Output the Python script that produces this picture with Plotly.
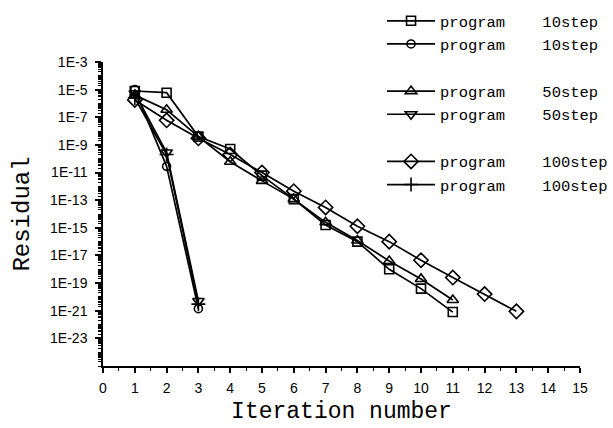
import plotly.graph_objects as go

# Residual history per iteration for each program / step setting
iters_sq = [1, 2, 3, 4, 5, 6, 7, 8, 9, 10, 11]
res_sq = [8e-6, 6e-6, 4e-9, 5e-10, 6e-12, 1.2e-13, 1.6e-15, 1e-16, 1e-18, 4e-20, 8e-22]

iters_circ = [1, 2, 3]
res_circ = [1e-5, 2.8e-11, 1.4e-21]

iters_tup = [1, 2, 3, 4, 5, 6, 7, 8, 9, 10, 11]
res_tup = [4e-6, 3.5e-7, 4e-9, 6e-11, 2.5e-12, 1.2e-13, 2.5e-15, 1.2e-16, 4e-18, 2e-19, 6e-21]

iters_tdn = [1, 2, 3]
res_tdn = [5.5e-6, 2.8e-10, 5e-21]

iters_dia = [1, 2, 3, 4, 5, 6, 7, 8, 9, 10, 11, 12, 13]
res_dia = [1.8e-6, 6e-8, 3e-9, 2e-10, 1e-11, 4.5e-13, 3e-14, 1.3e-15, 1e-16, 4.5e-18, 2.5e-19, 1.6e-20, 9e-22]

iters_plus = [1, 2, 3]
res_plus = [2.5e-6, 2e-10, 3e-21]

series = [
    ("program    10step", iters_sq, res_sq, "square-open", 9),
    ("program    10step", iters_circ, res_circ, "circle-open", 8),
    ("program    50step", iters_tup, res_tup, "triangle-up-open", 10),
    ("program    50step", iters_tdn, res_tdn, "triangle-down-open", 10),
    ("program    100step", iters_dia, res_dia, "diamond-open", 11),
    ("program    100step", iters_plus, res_plus, "cross-thin-open", 10),
]
groups = ["g10", "g10", "g50", "g50", "g100", "g100"]

# Labelled decades on the residual axis
ytick_vals = [1e-3, 1e-5, 1e-7, 1e-9, 1e-11, 1e-13, 1e-15, 1e-17, 1e-19, 1e-21, 1e-23]
ytick_text = ["1E-3", "1E-5", "1E-7", "1E-9", "1E-11", "1E-13", "1E-15",
              "1E-17", "1E-19", "1E-21", "1E-23"]

fig = go.Figure()
for (name, xs, ys, sym, sz), grp in zip(series, groups):
    fig.add_trace(go.Scatter(
        x=xs, y=ys, name=name, mode="lines+markers", legendgroup=grp,
        line=dict(color="black", width=1.7),
        marker=dict(symbol=sym, size=sz, color="black",
                    line=dict(color="black", width=1.6)),
    ))

fig.update_layout(
    width=613, height=428,
    margin=dict(l=103, r=33, t=62, b=62, autoexpand=False),
    paper_bgcolor="white", plot_bgcolor="white",
    font=dict(family="Liberation Sans, Arial, sans-serif", color="black", size=14),
    legend=dict(
        x=0.585, y=1.19, xanchor="left", yanchor="top",
        font=dict(family="Liberation Mono, monospace", size=15.5),
        tracegroupgap=24, bgcolor="rgba(0,0,0,0)",
        itemwidth=48,
    ),
)

fig.update_xaxes(
    range=[0, 15], tickmode="linear", tick0=0, dtick=1,
    showline=True, linecolor="black", linewidth=1.5, mirror=False,
    ticks="outside", ticklen=5, tickwidth=1.5, tickcolor="black",
    minor=dict(ticks="outside", dtick=0.5, ticklen=3, tickwidth=1, tickcolor="black"),
    showgrid=False, zeroline=False,
    tickfont=dict(size=14), ticklabelstandoff=3,
    title=dict(text="Iteration number",
               font=dict(family="Liberation Mono, monospace", size=23), standoff=7),
)

fig.update_yaxes(
    type="log", range=[-25, -3],
    tickmode="array", tickvals=ytick_vals, ticktext=ytick_text,
    showline=True, linecolor="black", linewidth=1.5, mirror=False,
    ticks="outside", ticklen=6, tickwidth=1.5, tickcolor="black",
    minor=dict(ticks="outside", dtick="D1", ticklen=3, tickwidth=1, tickcolor="black"),
    showgrid=False, zeroline=False,
    tickfont=dict(size=14), ticklabelstandoff=5,
    title=dict(text="Residual",
               font=dict(family="Liberation Mono, monospace", size=24), standoff=14),
)

fig.write_html("out.html")
